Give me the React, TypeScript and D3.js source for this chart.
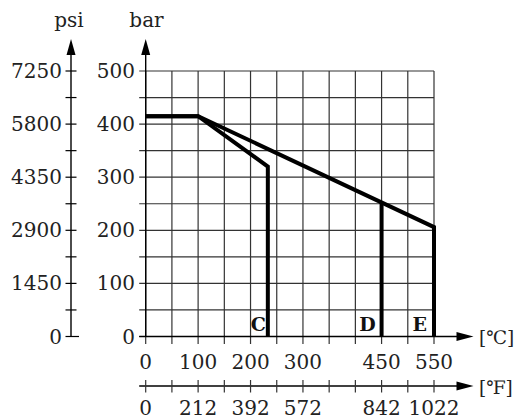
import React from "react";
import * as d3 from "d3";

const celsiusGrid = [0, 50, 100, 150, 200, 250, 300, 350, 400, 450, 500, 550];
const celsiusLabels = [0, 100, 200, 300, 450, 550];
const fahrenheitAt = [0, 100, 200, 300, 450, 550];
const fahrenheitLabels = ["0", "212", "392", "572", "842", "1022"];
const barGrid = [0, 50, 100, 150, 200, 250, 300, 350, 400, 450, 500];
const barLabels = [0, 100, 200, 300, 400, 500];
const psiLabels = ["0", "1450", "2900", "4350", "5800", "7250"];
const curveC: [number, number][] = [[0, 415], [100, 415], [233, 320], [233, 0]];
const curveD: [number, number][] = [[450, 252], [450, 0]];
const curveE: [number, number][] = [[0, 415], [100, 415], [550, 206], [550, 0]];
const curveLabels: { t: string; x: number }[] = [
  { t: "C", x: 215 },
  { t: "D", x: 423 },
  { t: "E", x: 523 },
];

export default function App() {
  const W = 515, H = 419;
  const x = d3.scaleLinear().domain([0, 550]).range([145.7, 434]);
  const y = d3.scaleLinear().domain([0, 500]).range([336.5, 71]);
  const line = d3.line<[number, number]>().x(d => x(d[0])).y(d => y(d[1]));
  const psiX = 71;
  const barX = x(0);
  const fY = 386;
  const font = "'DejaVu Serif', serif";
  const fs = 20;
  const tc = "#222";
  return (
    <svg width={W} height={H} style={{ position: "absolute", left: 0, top: 0 }}>
      <rect width={W} height={H} fill="#fff" />
      {/* grid */}
      {barGrid.map(b => (
        <line key={"h" + b} x1={barX - 6.5} x2={x(550)} y1={y(b)} y2={y(b)} stroke="#333" strokeWidth={1.2} />
      ))}
      {celsiusGrid.map(c => (
        <line key={"v" + c} x1={x(c)} x2={x(c)} y1={y(500)} y2={y(0) + 7.5} stroke="#333" strokeWidth={1.2} />
      ))}
      {/* bar axis */}
      <line x1={barX} x2={barX} y1={y(0)} y2={52} stroke="#000" strokeWidth={1.4} />
      <path d={`M${barX},39 L${barX - 4.5},55 L${barX + 4.5},55 Z`} fill="#000" />
      {/* psi axis */}
      <line x1={psiX} x2={psiX} y1={y(0)} y2={52} stroke="#000" strokeWidth={1.4} />
      <path d={`M${psiX},39 L${psiX - 4.5},55 L${psiX + 4.5},55 Z`} fill="#000" />
      {barGrid.map(b => (
        <line key={"p" + b} x1={psiX - 5.5} x2={psiX + (b === 0 ? 8 : 5.5)} y1={y(b)} y2={y(b)} stroke="#000" strokeWidth={1.2} />
      ))}
      {/* C axis */}
      <line x1={barX - 6.5} x2={460} y1={y(0)} y2={y(0)} stroke="#000" strokeWidth={1.4} />
      <path d={`M473.5,${y(0)} L456.5,${y(0) - 4.5} L456.5,${y(0) + 4.5} Z`} fill="#000" />
      {/* F axis */}
      <line x1={barX - 6.5} x2={460} y1={fY} y2={fY} stroke="#000" strokeWidth={1.4} />
      <path d={`M473.5,${fY} L456.5,${fY - 4.5} L456.5,${fY + 4.5} Z`} fill="#000" />
      {celsiusGrid.map(c => (
        <line key={"f" + c} x1={x(c)} x2={x(c)} y1={fY - 6} y2={fY + 6.5} stroke="#333" strokeWidth={1.2} />
      ))}
      {/* curves */}
      {[curveC, curveD, curveE].map((cv, i) => (
        <path key={"c" + i} d={line(cv) || ""} fill="none" stroke="#000" strokeWidth={4} strokeLinejoin="miter" />
      ))}
      {curveLabels.map(l => (
        <text key={l.t} x={x(l.x)} y={330.5} textAnchor="middle" fontFamily={font} fontWeight="bold" fontSize={19} fill="#111">{l.t}</text>
      ))}
      {/* labels */}
      <g fontFamily={font} fontSize={fs} fill={tc}>
        <text x={69} y={27} textAnchor="middle">psi</text>
        <text x={146.5} y={27} textAnchor="middle">bar</text>
        {barLabels.map((b, i) => (
          <text key={"bl" + b} x={135} y={y(b) + 7} textAnchor="end">{b}</text>
        ))}
        {psiLabels.map((p, i) => (
          <text key={"pl" + p} x={62} y={y(barLabels[i]) + 7} textAnchor="end">{p}</text>
        ))}
        {celsiusLabels.map(c => (
          <text key={"cl" + c} x={x(c)} y={369} textAnchor="middle">{c}</text>
        ))}
        {fahrenheitLabels.map((f, i) => (
          <text key={"fl" + f} x={x(fahrenheitAt[i])} y={415} textAnchor="middle">{f}</text>
        ))}
        <text x={479} y={y(0) + 7.5} fontSize={18.5}>[℃]</text>
        <text x={479} y={fY + 7.5} fontSize={18.5}>[℉]</text>
      </g>
    </svg>
  );
}
